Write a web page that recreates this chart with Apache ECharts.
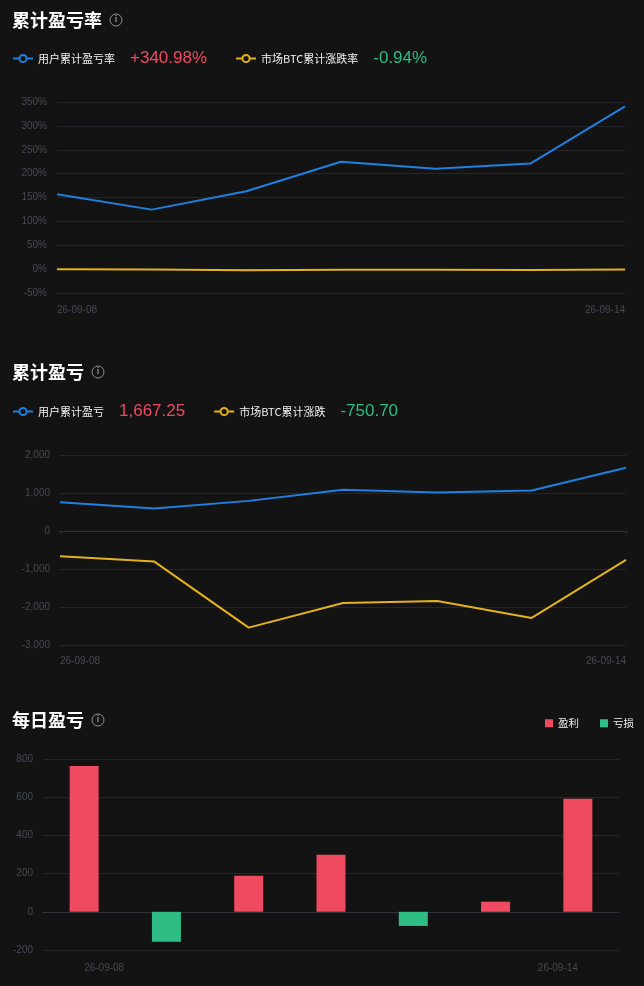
<!DOCTYPE html>
<html><head><meta charset="utf-8">
<script src="https://cdn.jsdelivr.net/npm/echarts@6/dist/echarts.min.js"></script>
<style>html,body{margin:0;padding:0;background:#131313;}#c{width:644px;height:986px;}</style>
</head><body><div id="c"></div>
<script>
// ---- data ----
const dates = ['26-09-08','26-09-09','26-09-10','26-09-11','26-09-12','26-09-13','26-09-14'];
const userRate = [156.7, 124.6, 163, 225, 210, 221, 340.98];
const btcRate = [-0.3, -0.6, -2.5, -1.2, -1.3, -1.6, -0.94];
const userPnl = [762, 598, 796, 1085, 1016, 1069, 1667.25];
const btcPnl = [-657, -797, -2530, -1883, -1830, -2277, -750.70];
const dailyPnl = [763, -157, 189, 299, -74, 53, 592];
const rateTicks = {min: -50, max: 350, interval: 50};
const pnlTicks = {min: -3000, max: 2000, interval: 1000};
const dailyTicks = {min: -200, max: 800, interval: 200};

const BLUE = '#1f80e0', YELLOW = '#e4b21c', RED = '#f04a61', GREEN = '#2ebd85';
const GRID = '#24262c', AXISTXT = '#474a53', BG = '#131313';
const CJK = '"Noto Sans CJK SC", sans-serif';
const NUM = '"Liberation Sans", Arial, sans-serif';

function fmtNum(v){ return v.toLocaleString('en-US',{minimumFractionDigits:2, maximumFractionDigits:2}); }
const last = a => a[a.length-1];
const valueText = {
  '用户累计盈亏率': (last(userRate)>=0?'+':'') + last(userRate).toFixed(2) + '%',
  '市场BTC累计涨跌率': (last(btcRate)>=0?'+':'') + last(btcRate).toFixed(2) + '%',
  '用户累计盈亏': fmtNum(last(userPnl)),
  '市场BTC累计涨跌': fmtNum(last(btcPnl))
};
const valueSign = {
  '用户累计盈亏率': last(userRate), '市场BTC累计涨跌率': last(btcRate),
  '用户累计盈亏': last(userPnl), '市场BTC累计涨跌': last(btcPnl)
};

const chart = echarts.init(document.getElementById('c'), null, {renderer:'canvas'});

function titleOpt(text, top){
  return {
    text: '{t|' + text + '}{i|i}', left: 7, top: top,
    textStyle: { rich: {
      t: {fontSize: 18, fontWeight: 'bold', color: '#ffffff', fontFamily: CJK, padding: [0, 8, 0, 0]},
      i: {fontSize: 9, color: '#8f8f8f', width: 12, height: 12, align: 'center', lineHeight: 12,
          borderColor: '#8f8f8f', borderWidth: 1, borderRadius: 7, fontFamily: NUM}
    }}
  };
}
const richLegend = {
  n: {fontSize: 11, color: '#f0f0f0', fontFamily: CJK, padding: [0, 15, 0, 0]},
  up: {fontSize: 17, color: RED, fontFamily: NUM},
  dn: {fontSize: 17, color: GREEN, fontFamily: NUM}
};
function legendFmt(name){
  return '{n|' + name + '}{' + (valueSign[name] >= 0 ? 'up' : 'dn') + '|' + valueText[name] + '}';
}
function xAxisOpt(gi, boundaryGap, ticks, margin){
  return {
    type: 'category', gridIndex: gi, data: dates, boundaryGap: boundaryGap,
    axisLine: {show: true, lineStyle: {color: '#30323a'}},
    axisTick: {show: ticks, length: 3, lineStyle: {color: '#30323a'}},
    axisLabel: {
      color: AXISTXT, fontSize: 10, fontFamily: NUM, margin: margin,
      interval: (i) => i === 0 || i === dates.length - 1,
      alignMinLabel: 'left', alignMaxLabel: 'right'
    }
  };
}
function yAxisOpt(gi, t, fmt){
  return {
    type: 'value', gridIndex: gi, min: t.min, max: t.max, interval: t.interval,
    axisLine: {show: false}, axisTick: {show: false},
    splitLine: {lineStyle: {color: GRID, width: 1}},
    axisLabel: {color: AXISTXT, fontSize: 10, fontFamily: NUM, margin: 10, formatter: fmt}
  };
}
const lineSeries = (name, data, color, ai) => ({
  name, type: 'line', data, xAxisIndex: ai, yAxisIndex: ai,
  symbol: 'circle', symbolSize: 6, showSymbol: false,
  lineStyle: {width: 2, color}, itemStyle: {color: BG, borderColor: color, borderWidth: 1.8}
});
const lineLegend = (names, top) => ({
  data: names, left: 7, top: top, itemWidth: 20, itemHeight: 9, itemGap: 28,
  formatter: legendFmt, textStyle: {rich: richLegend}
});

const option = {
  backgroundColor: BG,
  animation: false,
  title: [titleOpt('累计盈亏率', 6), titleOpt('累计盈亏', 358), titleOpt('每日盈亏', 706)],
  legend: [
    lineLegend(['用户累计盈亏率','市场BTC累计涨跌率'], 45),
    lineLegend(['用户累计盈亏','市场BTC累计涨跌'], 398),
    {data: ['盈利','亏损'], right: 5, top: 713, icon: 'rect', itemWidth: 8, itemHeight: 8, itemGap: 21,
     textStyle: {color: '#f0f0f0', fontSize: 10.5, fontFamily: CJK}}
  ],
  grid: [
    {left: 57, right: 19, top: 102, height: 191},
    {left: 60, right: 18, top: 455, height: 190.5},
    {left: 43, right: 25, top: 759, height: 191}
  ],
  xAxis: [xAxisOpt(0, false, false, 12), xAxisOpt(1, false, true, 11), xAxisOpt(2, true, false, 13)],
  yAxis: [
    yAxisOpt(0, rateTicks, v => v + '%'),
    yAxisOpt(1, pnlTicks, v => v.toLocaleString('en-US')),
    yAxisOpt(2, dailyTicks, v => v)
  ],
  series: [
    lineSeries('用户累计盈亏率', userRate, BLUE, 0),
    lineSeries('市场BTC累计涨跌率', btcRate, YELLOW, 0),
    lineSeries('用户累计盈亏', userPnl, BLUE, 1),
    lineSeries('市场BTC累计涨跌', btcPnl, YELLOW, 1),
    {name: '盈利', type: 'bar', xAxisIndex: 2, yAxisIndex: 2, barWidth: 29, barGap: '-100%',
     data: dailyPnl.map(v => v >= 0 ? v : '-'), itemStyle: {color: RED}},
    {name: '亏损', type: 'bar', xAxisIndex: 2, yAxisIndex: 2, barWidth: 29, barGap: '-100%',
     data: dailyPnl.map(v => v < 0 ? v : '-'), itemStyle: {color: GREEN}}
  ]
};
chart.setOption(option);
</script></body></html>
